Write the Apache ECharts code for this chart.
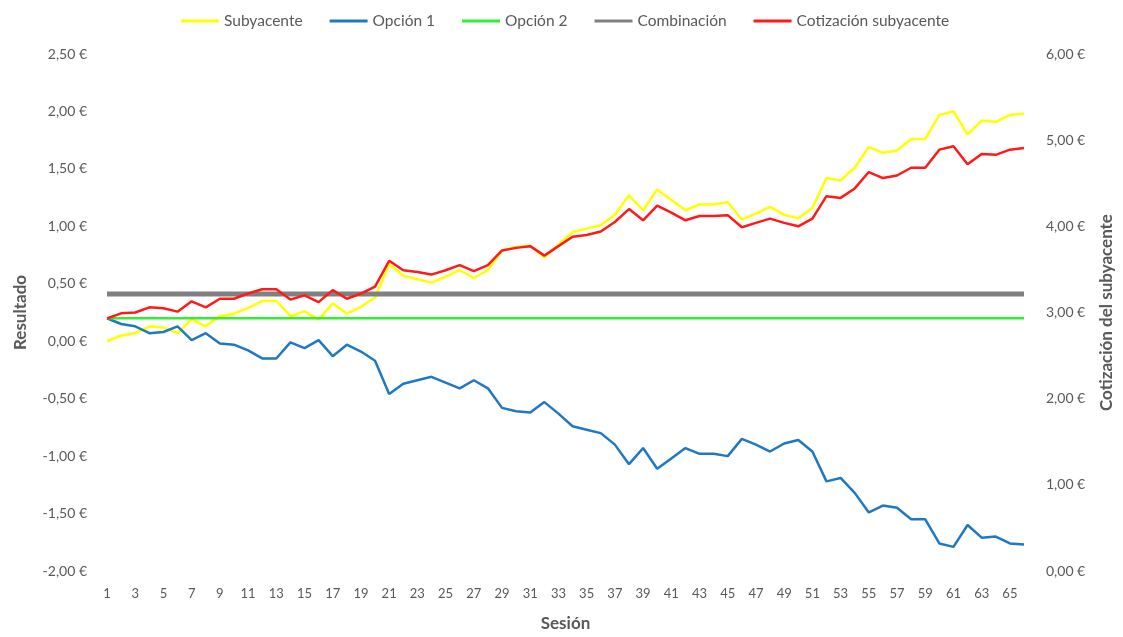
<!DOCTYPE html>
<html>
<head>
<meta charset="utf-8">
<script src="https://cdn.jsdelivr.net/npm/echarts@6/dist/echarts.min.js"></script>
<style>
  html, body { margin: 0; padding: 0; width: 100%; height: 100%; overflow: hidden; background: #ffffff; }
  #chart { width: 100%; height: 100%; }
</style>
</head>
<body>
<div id="chart"></div>
<script>
const sessions = [1,2,3,4,5,6,7,8,9,10,11,12,13,14,15,16,17,18,19,20,21,22,23,24,25,26,27,28,29,30,31,32,33,34,35,36,37,38,39,40,41,42,43,44,45,46,47,48,49,50,51,52,53,54,55,56,57,58,59,60,61,62,63,64,65,66];

const subyacente = [0.00,0.05,0.07,0.13,0.12,0.07,0.19,0.13,0.22,0.24,0.29,0.35,0.35,0.22,0.26,0.19,0.33,0.24,0.30,0.38,
  0.67,0.57,0.54,0.51,0.56,0.62,0.55,0.62,0.79,0.82,0.83,0.73,0.84,0.95,0.98,1.01,1.10,1.27,1.14,1.32,
  1.23,1.14,1.19,1.19,1.21,1.06,1.11,1.17,1.10,1.07,1.16,1.42,1.40,1.51,1.69,1.64,1.66,1.76,1.76,1.97,
  2.00,1.80,1.92,1.91,1.97,1.98];

const opcion1 = [0.20,0.15,0.13,0.07,0.08,0.13,0.01,0.07,-0.02,-0.03,-0.08,-0.15,-0.15,-0.01,-0.06,0.01,-0.13,-0.03,-0.09,-0.17,
  -0.46,-0.37,-0.34,-0.31,-0.36,-0.41,-0.34,-0.41,-0.58,-0.61,-0.62,-0.53,-0.63,-0.74,-0.77,-0.80,-0.90,-1.07,-0.93,-1.11,
  -1.02,-0.93,-0.98,-0.98,-1.00,-0.85,-0.90,-0.96,-0.89,-0.86,-0.96,-1.22,-1.19,-1.32,-1.49,-1.43,-1.45,-1.55,-1.55,-1.76,
  -1.79,-1.60,-1.71,-1.70,-1.76,-1.77];

const opcion2 = [0.20,0.20,0.20,0.20,0.20,0.20,0.20,0.20,0.20,0.20,0.20,0.20,0.20,0.20,0.20,0.20,0.20,0.20,0.20,0.20,
  0.20,0.20,0.20,0.20,0.20,0.20,0.20,0.20,0.20,0.20,0.20,0.20,0.20,0.20,0.20,0.20,0.20,0.20,0.20,0.20,
  0.20,0.20,0.20,0.20,0.20,0.20,0.20,0.20,0.20,0.20,0.20,0.20,0.20,0.20,0.20,0.20,0.20,0.20,0.20,0.20,
  0.20,0.20,0.20,0.20,0.20,0.20];

const combinacion = [0.41,0.41,0.41,0.41,0.41,0.41,0.41,0.41,0.41,0.41,0.41,0.41,0.41,0.41,0.41,0.41,0.41,0.41,0.41,0.41,
  0.41,0.41,0.41,0.41,0.41,0.41,0.41,0.41,0.41,0.41,0.41,0.41,0.41,0.41,0.41,0.41,0.41,0.41,0.41,0.41,
  0.41,0.41,0.41,0.41,0.41,0.41,0.41,0.41,0.41,0.41,0.41,0.41,0.41,0.41,0.41,0.41,0.41,0.41,0.41,0.41,
  0.41,0.41,0.41,0.41,0.41,0.41];

const cotizacion = [2.93,2.99,3.00,3.06,3.05,3.01,3.13,3.06,3.16,3.16,3.22,3.27,3.27,3.15,3.20,3.12,3.26,3.16,3.22,3.30,
  3.60,3.49,3.47,3.44,3.49,3.55,3.48,3.55,3.72,3.75,3.77,3.66,3.77,3.88,3.90,3.94,4.05,4.20,4.07,4.24,
  4.16,4.07,4.12,4.12,4.13,3.99,4.04,4.09,4.04,4.00,4.09,4.35,4.33,4.44,4.63,4.56,4.59,4.68,4.68,4.89,
  4.93,4.72,4.84,4.83,4.89,4.91];

const textColor = "#595959";
const fontFamily = "Lato, 'Open Sans', sans-serif";
const euro = (v) => v.toFixed(2).replace(".", ",") + " €";

const chart = echarts.init(document.getElementById("chart"));

const lineSeries = (name, data, color, width, yAxisIndex) => ({
  name,
  type: "line",
  data,
  yAxisIndex,
  symbol: "none",
  smooth: false,
  lineStyle: { color, width },
  itemStyle: { color },
  emphasis: { disabled: true },
});

chart.setOption({
  animation: false,
  textStyle: { fontFamily },
  legend: {
    top: 8,
    left: 176,
    itemWidth: 38,
    itemHeight: 3,
    itemGap: 27,
    icon: "rect",
    textStyle: { color: textColor, fontSize: 15.5, fontFamily },
    data: ["Subyacente", "Opción 1", "Opción 2", "Combinación", "Cotización subyacente"],
  },
  grid: { left: 107, right: 91, top: 54, bottom: 58 },
  xAxis: {
    type: "category",
    data: sessions,
    boundaryGap: false,
    axisLine: { show: false },
    axisTick: { show: false },
    axisLabel: { interval: 1, color: textColor, fontSize: 13, margin: 16, fontFamily },
    name: "Sesión",
    nameLocation: "middle",
    nameGap: 44,
    nameTextStyle: { color: textColor, fontSize: 17, fontWeight: "bold", fontFamily },
  },
  yAxis: [
    {
      type: "value",
      min: -2,
      max: 2.5,
      interval: 0.5,
      axisLine: { show: false },
      axisTick: { show: false },
      splitLine: { show: false },
      axisLabel: { color: textColor, fontSize: 14, margin: 20, formatter: euro, fontFamily },
      name: "Resultado",
      nameLocation: "middle",
      nameRotate: 90,
      nameGap: 78,
      nameTextStyle: { color: textColor, fontSize: 17, fontWeight: "bold", fontFamily },
    },
    {
      type: "value",
      min: 0,
      max: 6,
      interval: 1,
      position: "right",
      axisLine: { show: false },
      axisTick: { show: false },
      splitLine: { show: false },
      axisLabel: { color: textColor, fontSize: 14, margin: 22, formatter: euro, fontFamily },
      name: "Cotización del subyacente",
      nameLocation: "middle",
      nameRotate: 90,
      nameGap: 74,
      nameTextStyle: { color: textColor, fontSize: 17, fontWeight: "bold", fontFamily },
    },
  ],
  series: [
    lineSeries("Subyacente", subyacente, "#ffff00", 2.5, 0),
    lineSeries("Opción 1", opcion1, "#1f78c4", 2.5, 0),
    lineSeries("Opción 2", opcion2, "#33ee33", 2.5, 0),
    lineSeries("Combinación", combinacion, "#808080", 5, 0),
    lineSeries("Cotización subyacente", cotizacion, "#ff1a1a", 2.5, 1),
  ],
});
</script>
</body>
</html>
